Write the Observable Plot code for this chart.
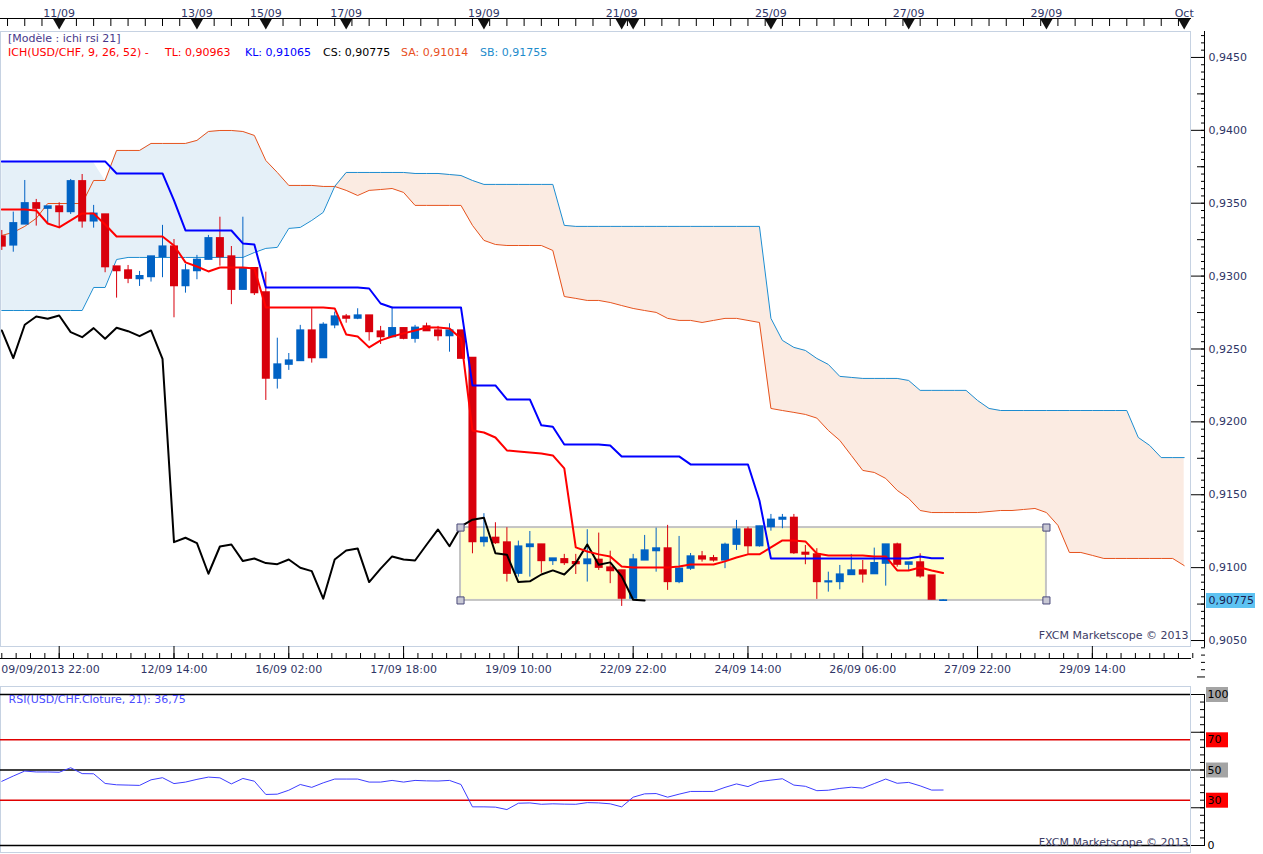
<!DOCTYPE html>
<html><head><meta charset="utf-8">
<script src="https://cdn.jsdelivr.net/npm/d3@7"></script>
<script src="https://cdn.jsdelivr.net/npm/@observablehq/plot@0.6"></script>
<style>
body{margin:0;background:#fff;}
#wrap{position:relative;width:1263px;height:854px;overflow:hidden;font-family:"DejaVu Sans",sans-serif;}
#wrap svg{position:absolute;left:0;}
.lg{position:absolute;font-size:11px;white-space:nowrap;line-height:13px;}
</style></head><body><div id="wrap"></div>
<script>
// ---- 4-hour USD/CHF candles (bar index = position) ----
const opens = [
0.93272,0.93210,0.93354,0.93500,0.93462,0.93478,0.93439,0.93651,0.93375,0.93423,
0.93066,0.93039,0.92979,0.92993,0.93130,0.93203,0.92931,0.93034,0.93112,0.93260,
0.93135,0.92906,0.93055,0.92888,0.92296,0.92392,0.92417,0.92627,0.92437,0.92662,
0.92723,0.92708,0.92730,0.92620,0.92581,0.92643,0.92570,0.92655,0.92627,0.92588,
0.92627,0.92440,0.91175,0.91205,0.91173,0.90958,0.91141,0.91159,0.91045,0.91058,
0.91038,0.91024,0.91054,0.91001,0.90981,0.90787,0.91049,0.91113,0.91132,0.90901,
0.90993,0.91077,0.91065,0.91049,0.91157,0.91262,0.91147,0.91278,0.91329,0.91342,
0.91102,0.91091,0.90899,0.90901,0.90949,0.90981,0.90955,0.91027,0.91159,0.91020,
0.91036,0.90946,0.90772];
const highs = [
0.93313,0.93439,0.93656,0.93526,0.93478,0.93503,0.93663,0.93697,0.93485,0.93423,
0.93066,0.93073,0.93032,0.93135,0.93348,0.93251,0.93080,0.93142,0.93279,0.93404,
0.93203,0.93404,0.93055,0.93027,0.92574,0.92469,0.92662,0.92776,0.92680,0.92753,
0.92737,0.92776,0.92730,0.92655,0.92787,0.92643,0.92662,0.92677,0.92655,0.92673,
0.92627,0.92440,0.91370,0.91308,0.91274,0.91182,0.91248,0.91159,0.91063,0.91091,
0.91091,0.91260,0.91237,0.91113,0.90981,0.91091,0.91221,0.91271,0.91290,0.91214,
0.91097,0.91111,0.91084,0.91168,0.91324,0.91278,0.91283,0.91365,0.91365,0.91365,
0.91152,0.91130,0.90969,0.91015,0.91091,0.91049,0.91134,0.91159,0.91168,0.91036,
0.91095,0.90946,0.90780];
const lows = [
0.93176,0.93164,0.93354,0.93343,0.93361,0.93336,0.93423,0.93329,0.93329,0.93023,
0.92849,0.92948,0.92929,0.92959,0.92989,0.92714,0.92883,0.92975,0.93112,0.93068,
0.92804,0.92906,0.92867,0.92147,0.92225,0.92353,0.92417,0.92403,0.92437,0.92639,
0.92677,0.92701,0.92554,0.92531,0.92581,0.92563,0.92540,0.92622,0.92554,0.92478,
0.92433,0.91095,0.91141,0.91159,0.90901,0.90935,0.90935,0.90962,0.91015,0.91015,
0.90953,0.90901,0.90981,0.90890,0.90734,0.90787,0.91049,0.90969,0.90844,0.90890,
0.90981,0.91038,0.91038,0.90993,0.91118,0.91091,0.91141,0.91250,0.91267,0.91091,
0.91020,0.90782,0.90832,0.90848,0.90949,0.90894,0.90955,0.90873,0.91003,0.90981,
0.90928,0.90780,0.90772];
const closes = [
0.93203,0.93363,0.93500,0.93462,0.93478,0.93439,0.93651,0.93375,0.93428,0.93061,
0.93034,0.92982,0.93000,0.93135,0.93203,0.92931,0.93039,0.93112,0.93260,0.93130,
0.92906,0.93055,0.92883,0.92296,0.92394,0.92421,0.92627,0.92437,0.92666,0.92723,
0.92708,0.92730,0.92616,0.92581,0.92643,0.92570,0.92646,0.92622,0.92588,0.92627,
0.92433,0.91175,0.91205,0.91168,0.90958,0.91145,0.91159,0.91045,0.91063,0.91031,
0.91024,0.91056,0.90999,0.90976,0.90787,0.91056,0.91118,0.91132,0.90901,0.90993,
0.91077,0.91056,0.91049,0.91157,0.91262,0.91147,0.91283,0.91329,0.91342,0.91099,
0.91089,0.90901,0.90906,0.90953,0.90981,0.90953,0.91031,0.91159,0.91020,0.91036,
0.90940,0.90780,0.90775];

// ---- Ichimoku (9, 26, 52) ----
const tenkan = [
0.93457,0.93457,0.93457,0.93450,0.93361,0.93334,0.93382,0.93430,0.93430,0.93354,
0.93272,0.93272,0.93272,0.93272,0.93272,0.93210,0.93094,0.93066,0.93032,0.93059,
0.93059,0.93059,0.93052,0.92785,0.92785,0.92785,0.92785,0.92785,0.92785,0.92778,
0.92600,0.92586,0.92511,0.92559,0.92586,0.92607,0.92627,0.92648,0.92648,0.92641,
0.92572,0.91941,0.91927,0.91893,0.91804,0.91797,0.91790,0.91783,0.91770,0.91681,
0.91139,0.91111,0.91091,0.91077,0.91008,0.91001,0.91001,0.91001,0.91001,0.91008,
0.91022,0.91022,0.91022,0.91043,0.91070,0.91091,0.91091,0.91139,0.91187,0.91187,
0.91180,0.91097,0.91084,0.91084,0.91084,0.91084,0.91077,0.91077,0.90981,0.90981,
0.91001,0.90981,0.90963];
const kijun = [
0.93787,0.93787,0.93787,0.93787,0.93787,0.93787,0.93787,0.93787,0.93787,0.93787,
0.93704,0.93704,0.93704,0.93704,0.93704,0.93519,0.93313,0.93313,0.93313,0.93313,
0.93313,0.93224,0.93217,0.92922,0.92922,0.92922,0.92922,0.92922,0.92922,0.92922,
0.92922,0.92922,0.92915,0.92812,0.92785,0.92785,0.92785,0.92785,0.92785,0.92785,
0.92785,0.92250,0.92250,0.92250,0.92154,0.92154,0.92154,0.91976,0.91967,0.91845,
0.91845,0.91845,0.91845,0.91838,0.91763,0.91763,0.91763,0.91763,0.91763,0.91763,
0.91708,0.91708,0.91708,0.91708,0.91708,0.91708,0.91461,0.91063,0.91063,0.91063,
0.91063,0.91063,0.91063,0.91063,0.91063,0.91063,0.91063,0.91063,0.91063,0.91063,
0.91077,0.91065,0.91065];
const senkouA = [
0.93279,0.93300,0.93341,0.93396,0.93498,0.93498,0.93498,0.93498,0.93656,0.93656,
0.93862,0.93862,0.93862,0.93910,0.93910,0.93910,0.93910,0.93931,0.93992,0.93999,
0.93999,0.93992,0.93965,0.93793,0.93711,0.93622,0.93622,0.93622,0.93615,0.93615,
0.93588,0.93553,0.93588,0.93594,0.93601,0.93574,0.93485,0.93485,0.93485,0.93485,
0.93485,0.93348,0.93245,0.93217,0.93210,0.93210,0.93210,0.93210,0.93176,0.92860,
0.92847,0.92833,0.92833,0.92819,0.92798,0.92778,0.92764,0.92751,0.92710,0.92696,
0.92696,0.92682,0.92696,0.92710,0.92710,0.92696,0.92682,0.92092,0.92078,0.92065,
0.92051,0.92026,0.91941,0.91873,0.91770,0.91667,0.91653,0.91612,0.91530,0.91475,
0.91392,0.91378,0.91378,0.91378,0.91378,0.91378,0.91385,0.91392,0.91392,0.91399,
0.91406,0.91378,0.91290,0.91104,0.91104,0.91084,0.91063,0.91063,0.91063,0.91063,
0.91063,0.91063,0.91063,0.91014];
const senkouB = [
0.92764,0.92764,0.92764,0.92764,0.92764,0.92764,0.92764,0.92764,0.92922,0.92922,
0.93114,0.93128,0.93128,0.93128,0.93128,0.93128,0.93128,0.93128,0.93128,0.93128,
0.93128,0.93128,0.93162,0.93190,0.93197,0.93327,0.93334,0.93382,0.93437,0.93615,
0.93711,0.93711,0.93711,0.93711,0.93711,0.93711,0.93704,0.93704,0.93704,0.93697,
0.93690,0.93656,0.93629,0.93629,0.93629,0.93629,0.93629,0.93629,0.93629,0.93348,
0.93341,0.93341,0.93341,0.93341,0.93341,0.93341,0.93341,0.93341,0.93341,0.93341,
0.93341,0.93341,0.93341,0.93341,0.93341,0.93341,0.93341,0.92710,0.92559,0.92511,
0.92490,0.92435,0.92394,0.92312,0.92305,0.92298,0.92298,0.92298,0.92298,0.92284,
0.92216,0.92216,0.92216,0.92216,0.92216,0.92147,0.92092,0.92078,0.92078,0.92078,
0.92078,0.92078,0.92078,0.92078,0.92078,0.92078,0.92078,0.92078,0.92078,0.91893,
0.91838,0.91755,0.91755,0.91755];
// upper edge of the bullish cloud fill on the first bars (as drawn by the platform)
const cloudFillTopLeft = [0.93780,0.93780,0.93780,0.93780,0.93780,0.93780,0.93780,0.93780,0.93780];
const chikouShift = 26;

// ---- RSI(21) ----
const rsi = [
42.5,46,49.3,48.7,48.7,48.5,51.5,47.6,47.5,41.1,
40.2,40,39.8,43.5,44.9,41,42,43.8,45.3,44.8,
40.8,44.4,42.6,33.8,34,36.6,40.4,38.5,41.5,44,
44,44,42,42,43.1,42,43.1,42.8,42.7,43.1,
40.4,25.6,25.6,25.4,23.8,28,28.2,27.3,27.6,27.4,
27.3,28.4,28.2,27.6,25.6,32,34.2,34.4,32,34,
35.8,35.8,35.8,38.5,40.8,39,42.3,43.3,44.2,40,
39.2,36.3,36.6,37.8,38.6,38,41,44,41.2,41.8,
39.5,36.7,36.75];
const rsiLevels = [100, 70, 50, 30, 0];
const rsiLevelColors = ["#000", "#e00000", "#000", "#e00000", "#000"];
const rsiLabelBg = ["#a4a4a4", "#ff0000", "#a4a4a4", "#ff0000", null];

// ---- axes ----
const dayTickBars = [5, 17, 23, 30, 42, 54, 55, 67, 79, 91, 103];
const dayLabels = ["11/09", "13/09", "15/09", "17/09", "19/09", "21/09", "", "25/09", "27/09", "29/09", "Oct"];
const timeTickBars = [5, 15, 25, 35, 45, 55, 65, 75, 85, 95];
const timeLabels = ["09/09/2013 22:00", "12/09 14:00", "16/09 02:00", "17/09 18:00", "19/09 10:00",
  "22/09 22:00", "24/09 14:00", "26/09 06:00", "27/09 22:00", "29/09 14:00"];
const priceTicks = [0.905, 0.910, 0.915, 0.920, 0.925, 0.930, 0.935, 0.940, 0.945];
const lastPrice = 0.90775;
const zoneBars = [39.96, 91.0];
const zonePrices = [0.90775, 0.91275];
const xDomain = [-0.113, 103.55];
const yDomain = [0.90459, 0.94678];

// ---- derived tables ----
const bars = opens.map((o, i) => ({k: i, o, h: highs[i], l: lows[i], c: closes[i],
  top: Math.max(o, closes[i]), bot: Math.min(o, closes[i])}));
const up = bars.filter(d => d.c >= d.o), down = bars.filter(d => d.c < d.o);
const cloud = senkouA.map((a, i) => {
  const b = senkouB[i];
  const bullTop = Math.max(a, b, i < cloudFillTopLeft.length ? cloudFillTopLeft[i] : -Infinity);
  return {k: i, a, b, m: Math.max(a, b), bullTop};
});
const tl = tenkan.map((v, i) => ({k: i, v}));
const kl = kijun.map((v, i) => ({k: i, v}));
const cs = closes.slice(chikouShift).map((v, i) => ({k: i, v}));
const rsiData = rsi.map((v, i) => ({k: i, v}));
const handles = [];
for (const xb of zoneBars) for (const yp of zonePrices) handles.push({x: xb, y: yp});
const minorTop = d3.range(0.5, 104, 1.5);
const minorBottom = d3.range(0, 104, 1.25);
const minorPrice = d3.range(9030, 9470, 5).map(v => v / 10000);
const midPrice = d3.range(9025, 9470, 50).map(v => v / 10000);

const RED = "#d8000c", BLUE = "#0062c4", NAVY = "#2f3566", BORDER = "#c6d2e2";
const fmt = v => v.toFixed(4).replace(".", ",");
const none = () => "";

const price = Plot.plot({
  width: 1263, height: 686, marginTop: 31, marginBottom: 40, marginLeft: 0, marginRight: 73,
  x: {domain: xDomain, label: null},
  y: {domain: yDomain, label: null},
  style: {fontFamily: "DejaVu Sans", fontSize: "11px", color: NAVY, background: "transparent"},
  marks: [
    Plot.areaY(cloud, {x: "k", y1: "b", y2: "bullTop", fill: "#e5f0f8"}),
    Plot.areaY(cloud, {x: "k", y1: "a", y2: "m", fill: "#fbebe2"}),
    Plot.rect([0], {x1: zoneBars[0], x2: zoneBars[1], y1: zonePrices[0], y2: zonePrices[1],
      fill: "#ffffcc", stroke: "#c4c4c4", strokeWidth: 2}),
    Plot.line(cloud, {x: "k", y: "a", stroke: "#e6521c", strokeWidth: 1}),
    Plot.line(cloud, {x: "k", y: "b", stroke: "#1c8cd0", strokeWidth: 1}),
    Plot.ruleX(up, {x: "k", y1: "h", y2: "l", stroke: BLUE, strokeWidth: 1}),
    Plot.ruleX(down, {x: "k", y1: "h", y2: "l", stroke: RED, strokeWidth: 1}),
    Plot.ruleX(up, {x: "k", y1: "top", y2: "bot", stroke: BLUE, strokeWidth: 8, insetTop: -0.6, insetBottom: -0.6}),
    Plot.ruleX(down, {x: "k", y1: "top", y2: "bot", stroke: RED, strokeWidth: 8, insetTop: -0.6, insetBottom: -0.6}),
    Plot.line(cs, {x: "k", y: "v", stroke: "#000", strokeWidth: 2}),
    Plot.line(tl, {x: "k", y: "v", stroke: "#ff0000", strokeWidth: 2}),
    Plot.line(kl, {x: "k", y: "v", stroke: "#0000ff", strokeWidth: 2}),
    Plot.dot(handles, {x: "x", y: "y", symbol: "square", r: 4, fill: "#c8c8d4", stroke: "#4a4a7a", strokeWidth: 1}),
    Plot.frame({stroke: BORDER}),
    // top date axis
    Plot.frame({anchor: "top", dy: -13, stroke: "#000"}),
    Plot.axisX({anchor: "top", ticks: minorTop, tickSize: 7, dy: -6, tickFormat: none, stroke: "#000", label: null}),
    Plot.dot(dayTickBars, {x: d => d, frameAnchor: "top", dy: -9, symbol: "triangle", rotate: 180, r: 4.5, fill: "#111"}),
    Plot.text(dayTickBars, {x: d => d, text: (d, i) => dayLabels[i], frameAnchor: "top", dy: -22, fill: NAVY}),
    // bottom time axis
    Plot.frame({anchor: "bottom", dy: 12, stroke: "#000"}),
    Plot.axisX({anchor: "bottom", ticks: timeTickBars, tickSize: 12, tickFormat: none, stroke: "#000", label: null}),
    Plot.axisX({anchor: "bottom", ticks: minorBottom, tickSize: 5, dy: 7, tickFormat: none, stroke: "#000", label: null}),
    Plot.text(timeTickBars.slice(0, 1), {x: d => d, text: () => timeLabels[0], frameAnchor: "bottom", dy: 26, dx: -58, textAnchor: "start", fill: NAVY}),
    Plot.text(timeTickBars.slice(1), {x: d => d, text: (d, i) => timeLabels[i + 1], frameAnchor: "bottom", dy: 26, fill: NAVY}),
    // right price axis
    Plot.frame({anchor: "right", dx: 14, stroke: "#000"}),
    Plot.axisY({anchor: "right", ticks: minorPrice, tickSize: 4, dx: 10, tickFormat: none, stroke: "#000", label: null}),
    Plot.axisY({anchor: "right", ticks: midPrice, tickSize: 8, dx: 6, tickFormat: none, stroke: "#000", label: null}),
    Plot.ruleY([lastPrice], {stroke: "#5ec3f2", strokeWidth: 15, insetLeft: 1141, dx: 65}),
    Plot.axisY({anchor: "right", ticks: priceTicks, tickSize: 14, tickPadding: 4, tickFormat: fmt, stroke: "#000", fill: NAVY, label: null}),
    Plot.text([lastPrice], {y: d => d, text: d => d.toFixed(5).replace(".", ","), frameAnchor: "right", dx: 18, textAnchor: "start", fill: "#1a2050"}),
    Plot.text(["FXCM Marketscope © 2013"], {frameAnchor: "bottom-right", dx: -2, dy: -8, textAnchor: "end", fill: "#3d3d66"})
  ]
});

const rsiPlot = Plot.plot({
  width: 1263, height: 168, marginTop: 8, marginBottom: 9, marginLeft: 0, marginRight: 73,
  x: {domain: xDomain, axis: null, label: null},
  y: {domain: [0, 100], label: null},
  style: {fontFamily: "DejaVu Sans", fontSize: "11px", color: NAVY, background: "transparent"},
  marks: [
    Plot.frame({stroke: BORDER, insetTop: -8, insetBottom: -7}),
    Plot.ruleY(rsiLevels, {y: d => d, stroke: (d, i) => rsiLevelColors[i], strokeWidth: 1.5}),
    Plot.line(rsiData, {x: "k", y: "v", stroke: "#3d3dff", strokeWidth: 1}),
    Plot.frame({anchor: "right", dx: 14, stroke: "#000"}),
    Plot.axisY({anchor: "right", ticks: d3.range(0, 101, 5), tickSize: 5, dx: 9, tickFormat: none, stroke: "#000", label: null}),
    Plot.axisY({anchor: "right", ticks: [0, 25, 50, 75, 100], tickSize: 14, tickFormat: none, stroke: "#000", label: null}),
    Plot.ruleY(rsiLevels.filter((d, i) => rsiLabelBg[i]), {y: d => d,
      stroke: d => rsiLabelBg[rsiLevels.indexOf(d)], strokeWidth: 15,
      insetLeft: 1168, dx: 38}),
    Plot.text(rsiLevels, {y: d => d, text: d => String(d), frameAnchor: "right", dx: 17, textAnchor: "start", fill: "#000"}),
    Plot.text(["RSI(USD/CHF.Cloture, 21): 36,75"], {frameAnchor: "top-left", dx: 8, dy: 1, textAnchor: "start", fill: "#4b4bff"}),
    Plot.text(["FXCM Marketscope © 2013"], {frameAnchor: "bottom-right", dx: -2, dy: 0, textAnchor: "end", fill: "#3d3d66"})
  ]
});

const wrap = document.getElementById("wrap");
price.style.top = "0px";
rsiPlot.style.top = "686px";
wrap.appendChild(price);
wrap.appendChild(rsiPlot);

const legend = [
  {t: "[Modèle : ichi rsi 21]", x: 8, y: 32, c: "#47388a"},
  {t: "ICH(USD/CHF, 9, 26, 52) -", x: 8, y: 46, c: "#ff0000"},
  {t: "TL: 0,90963", x: 165, y: 46, c: "#ff0000"},
  {t: "KL: 0,91065", x: 245, y: 46, c: "#0000ff"},
  {t: "CS: 0,90775", x: 323, y: 46, c: "#000000"},
  {t: "SA: 0,91014", x: 401, y: 46, c: "#e8501e"},
  {t: "SB: 0,91755", x: 480, y: 46, c: "#1e8ccc"}
];
for (const l of legend) {
  const s = document.createElement("div");
  s.className = "lg";
  s.textContent = l.t;
  s.style.left = l.x + "px";
  s.style.top = l.y + "px";
  s.style.color = l.c;
  wrap.appendChild(s);
}
</script></body></html>
